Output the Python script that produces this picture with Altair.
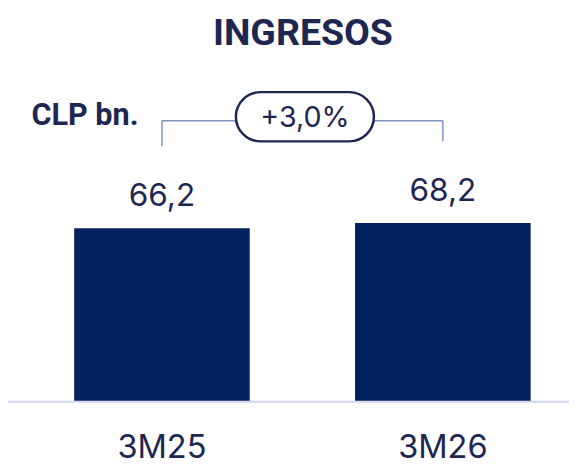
import altair as alt
import pandas as pd

# ---- data ----
categories = ["3M25", "3M26"]
values = [66.2, 68.2]
value_labels = ["66,2", "68,2"]
bracket_top = [107.4, 107.4]
bracket_bottom = [97.6, 99.5]
title_text = "INGRESOS"
unit_text = "CLP bn."
growth_text = "+3,0%"

NAVY_BAR = "#03215e"
NAVY_TXT = "#1e2652"
BRACKET = "#7e95c4"
BASELINE = "#d2d6ee"
FONT = "Inter"
BOLD_FONT = "Roboto"

df = pd.DataFrame({
    "cat": categories,
    "value": values,
    "label": value_labels,
    "btop": bracket_top,
    "bbot": bracket_bottom,
})

W, H = 569, 456

first_test = f"datum.cat === '{categories[0]}'"

# one identical pipeline for every layer
base = alt.Chart(df).transform_calculate(
    zero="0",
    zb="-0.38",
    show=f"{first_test} ? 1 : 0",
    title=f"{first_test} ? '{title_text}' : ''",
    unit=f"{first_test} ? '{unit_text}' : ''",
    growth=f"{first_test} ? '{growth_text}' : ''",
    ty="136.6", uy="105.9", gy="105.2", ptop="118.4", pbot="99.5",
)

x = alt.X("cat:N", sort=categories, axis=None,
          scale=alt.Scale(paddingInner=0.375, paddingOuter=0.186, align=0.633))
y_scale = alt.Scale(domain=[-23.08, 149.45], nice=False, zero=False)
show = alt.Opacity("show:Q", scale=None, legend=None)

baseline_rule = base.mark_rule(color=BASELINE, strokeWidth=2).encode(
    y=alt.Y("zb:Q", scale=y_scale, axis=None),
    opacity=show,
)

bars = base.mark_bar(color=NAVY_BAR).encode(
    x=x,
    y=alt.Y("value:Q", scale=y_scale, axis=None),
    y2="zero:Q",
)

labels = base.mark_text(font=FONT, fontSize=32, color=NAVY_TXT,
                        baseline="alphabetic", dy=-22).encode(
    x=x,
    y=alt.Y("value:Q", scale=y_scale),
    text="label:N",
)

xlabels = base.mark_text(font=FONT, fontSize=33, color=NAVY_TXT,
                         baseline="alphabetic", dy=58).encode(
    x=x,
    y=alt.Y("zero:Q", scale=y_scale),
    text="cat:N",
)

vert = base.mark_rule(color=BRACKET, strokeWidth=1.5).encode(
    x=x,
    y=alt.Y("btop:Q", scale=y_scale),
    y2="bbot:Q",
)

horiz = base.mark_line(color=BRACKET, strokeWidth=1.5).encode(
    x=x,
    y=alt.Y("btop:Q", scale=y_scale),
)

pill = base.mark_bar(fill="white", stroke=NAVY_TXT, strokeWidth=2.5,
                     cornerRadius=25, width=140, xOffset=145).encode(
    x=x,
    y=alt.Y("ptop:Q", scale=y_scale),
    y2="pbot:Q",
    opacity=show,
)

pill_text = base.mark_text(
    font=FONT, fontSize=29, color=NAVY_TXT, baseline="alphabetic", dx=145).encode(
    x=x, y=alt.Y("gy:Q", scale=y_scale), text="growth:N"
)

title = base.mark_text(
    font=BOLD_FONT, fontSize=38, fontWeight="bold", color=NAVY_TXT,
    baseline="alphabetic", dx=143).encode(
    x=x, y=alt.Y("ty:Q", scale=y_scale), text="title:N"
)

unit = base.mark_text(
    font=BOLD_FONT, fontSize=31, fontWeight="bold", color=NAVY_TXT,
    baseline="alphabetic", dx=-78).encode(
    x=x, y=alt.Y("uy:Q", scale=y_scale), text="unit:N"
)

chart = alt.layer(
    baseline_rule, bars, labels, xlabels, vert, horiz, pill, pill_text, title, unit
).properties(
    width=W, height=H, padding=0, autosize=alt.AutoSizeParams(type="none")
).configure_view(stroke=None)

chart.save("out.html", embed_options={"renderer": "svg", "actions": False})
